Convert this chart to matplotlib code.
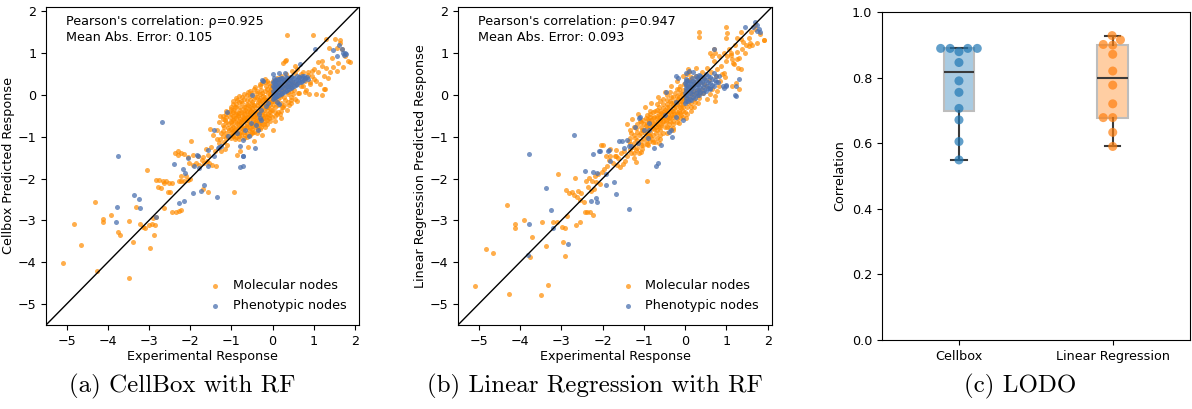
import numpy as np
import pandas as pd
import matplotlib
matplotlib.use("Agg")
import matplotlib.pyplot as plt
import seaborn as sns

# ---- panel (a): CellBox, molecular nodes (x = experimental, y = predicted)
a_mol_tail = np.array([
    (-5.08, -4.02), (-4.81, -3.09), (-4.65, -3.59), (-4.31, -2.57), (-4.26, -4.22), (-4.12, -2.97),
    (-4.11, -3.03), (-3.91, -2.87), (-3.76, -3.28), (-3.70, -3.35), (-3.48, -3.01), (-3.49, -4.38),
    (-3.38, -3.51), (-3.32, -2.67), (-3.23, -3.09), (-3.15, -3.15), (-3.09, -3.19), (-3.06, -1.79),
    (-2.98, -3.67), (-2.89, -3.36), (-2.99, -3.11), (-2.93, -3.09), (-2.85, -3.11), (-2.91, -2.95),
    (-2.83, -2.91), (-2.63, -2.71), (-2.43, -2.81), (-2.34, -2.79), (-2.26, -2.77), (-2.22, -2.75),
    (-2.79, -2.21), (-2.71, -2.23), (-2.63, -2.10), (-2.83, -2.03), (-2.75, -2.03), (-2.67, -2.06),
    (-2.59, -2.07), (-2.51, -2.10), (-2.43, -2.11), (-2.55, -2.31), (-2.49, -2.33), (-2.28, -2.07),
    (-2.22, -2.05), (-2.14, -2.07), (-2.06, -2.04), (-2.00, -2.00), (-1.56, -2.33), (-1.70, -2.25),
    (-0.94, -2.31), (-2.38, -1.40), (-2.30, -1.44), (-2.22, -1.39), (-2.14, -1.42), (-2.06, -1.48),
    (-1.94, -1.44), (-1.82, -1.46), (-1.70, -1.48), (-1.57, -1.44), (-2.02, -1.63), (-1.94, -1.67),
    (-1.86, -1.63), (-1.78, -1.67), (-1.66, -1.63), (-1.54, -1.63), (-1.46, -1.67), (-1.38, -1.71),
    (-2.22, -1.93), (-2.10, -1.95), (-1.98, -1.10), (-1.30, -1.15), (-1.18, -1.12), (-1.10, -1.20),
    (-1.62, -1.30), (-1.50, -1.25), (-1.40, -1.35), (-1.35, -1.05), (-1.45, -0.95), (-1.52, -0.82),
    (-1.28, -0.50), (-0.87, -1.43), (-0.80, -1.34), (-0.60, -1.25), (-0.45, -1.10), (-0.25, -0.95),
    (0.00, -0.84), (-2.29, -1.35), (-1.72, -1.55), (-1.60, -1.58), (-1.25, -1.35), (-1.15, -1.30),
])
a_mol_core = np.array([
    (-1.24, -0.92), (-1.18, -0.78), (-1.15, -0.60), (-1.12, -0.45), (-1.10, -0.98), (-1.07, -0.70),
    (-1.05, -0.85), (-1.03, -0.52), (-1.00, -0.62), (-0.98, -0.95), (-0.97, -0.40), (-0.95, -0.76),
    (-0.93, -0.55), (-0.91, -1.05), (-0.90, -0.88), (-0.88, -0.30), (-0.87, -0.68), (-0.85, -0.47),
    (-0.84, -0.80), (-0.82, -0.98), (-0.80, -0.58), (-0.79, -0.36), (-0.77, -0.72), (-0.76, -0.88),
    (-0.74, -0.50), (-0.73, -0.20), (-0.71, -0.63), (-0.70, -0.40), (-0.69, -0.80), (-0.67, -0.95),
    (-0.66, -0.28), (-0.64, -0.55), (-0.63, -0.70), (-0.61, -0.12), (-0.60, -0.45), (-0.58, -0.85),
    (-0.57, -0.33), (-0.56, -0.62), (-0.54, -0.02), (-0.53, -0.50), (-0.51, -0.75), (-0.50, -0.22),
    (-0.48, -0.40), (-0.47, -0.60), (-0.45, -0.10), (-0.44, -0.88), (-0.42, -0.30), (-0.41, -0.52),
    (-0.39, -0.68), (-0.38, 0.05), (-0.36, -0.18), (-0.35, -0.42), (-0.33, -0.60), (-0.31, -0.08),
    (-0.30, -0.30), (-0.28, -0.78), (-0.27, 0.12), (-0.25, -0.48), (-0.24, -0.20), (-0.22, -0.02),
    (-0.20, -0.36), (-0.19, -0.62), (-0.17, 0.20), (-0.16, -0.12), (-0.14, -0.28), (-0.12, 0.05),
    (-0.11, -0.45), (-0.09, 0.28), (-0.08, -0.18), (-0.06, -0.02), (-0.04, -0.35), (-0.03, 0.15),
    (0.00, -0.25), (0.02, 0.32), (0.04, -0.10), (0.06, -0.40), (0.08, 0.08), (0.10, 0.40),
    (0.12, -0.18), (0.15, 0.22), (0.17, -0.05), (0.20, 0.45), (0.22, -0.30), (0.25, 0.10),
    (0.28, 0.35), (0.30, -0.12), (0.33, 0.50), (0.36, 0.20), (0.38, 0.02), (0.42, 0.42),
    (0.45, -0.05), (0.48, 0.30), (0.52, 0.12), (0.55, 0.52), (0.58, 0.25), (0.62, 0.05),
    (0.65, 0.42), (0.70, 0.20), (0.74, 0.55), (0.78, 0.32), (0.82, 0.12), (0.86, 0.48),
    (0.90, 0.25), (0.95, 0.58), (1.00, 0.38), (-0.95, -0.22), (-1.02, -0.30), (-0.62, -1.00),
    (-0.50, -0.92), (-0.35, -0.82), (-0.20, -0.70), (-0.08, -0.55), (0.05, -0.62), (0.18, -0.45),
    (-1.30, -0.65), (-1.35, -0.85), (-1.28, -1.05), (-0.86, -0.12), (-0.75, -0.05), (-0.60, 0.08),
    (-0.46, 0.15), (-0.30, 0.25), (-0.18, 0.38), (-0.92, -0.65), (-0.89, -0.42), (-0.86, -0.92),
    (-0.83, -0.50), (-0.81, -0.70), (-0.78, -0.28), (-0.75, -0.60), (-0.72, -0.82), (-0.70, -0.52),
    (-0.68, -0.35), (-0.65, -0.75), (-0.62, -0.60), (-0.59, -0.25), (-0.57, -0.48), (-0.55, -0.70),
    (-0.52, -0.38), (-0.49, -0.82), (-0.46, -0.50), (-0.44, -0.25), (-0.40, -0.62), (-0.37, -0.45),
    (-0.34, -0.12), (-0.32, -0.70), (-0.29, -0.52), (-0.26, -0.32), (-0.23, -0.55), (-0.21, -0.10),
    (-0.18, -0.45), (-0.15, -0.22), (-0.13, -0.60), (-0.10, -0.30), (-0.07, 0.02), (-0.05, -0.48),
    (-0.02, -0.15), (-1.08, -0.80), (-1.05, -0.40), (-0.99, -0.72), (-0.96, -0.50), (-0.94, -0.85),
    (-0.91, -0.30),
])
a_mol_core2 = np.array([
    (-1.21, -0.98), (-1.21, -0.86), (-1.21, -0.72), (-1.21, -0.58), (-1.21, -0.50),
    (-1.13, -1.02), (-1.13, -0.90), (-1.13, -0.66), (-1.13, -0.53), (-1.13, -0.38),
    (-1.01, -1.04), (-1.01, -0.92), (-1.01, -0.81), (-1.01, -0.66), (-1.01, -0.45), (-1.01, -0.33),
    (-0.96, -0.98), (-0.96, -0.87), (-0.96, -0.60), (-0.96, -0.36), (-0.96, -0.15),
    (-0.89, -1.00), (-0.89, -0.76), (-0.89, -0.55), (-0.89, -0.45), (-0.89, -0.22), (-0.89, -0.08),
    (-0.81, -1.05), (-0.81, -0.90), (-0.81, -0.62), (-0.81, -0.43), (-0.81, -0.18), (-0.81, -0.02),
    (-0.76, -0.97), (-0.76, -0.79), (-0.76, -0.66), (-0.76, -0.42), (-0.76, -0.14),
    (-0.69, -1.02), (-0.69, -0.88), (-0.69, -0.58), (-0.69, -0.46), (-0.69, -0.30), (-0.69, -0.10),
    (-0.69, 0.02), (-0.61, -0.92), (-0.61, -0.78), (-0.61, -0.52), (-0.61, -0.38), (-0.61, -0.21),
    (-0.61, 0.00), (-0.55, -0.96), (-0.55, -0.80), (-0.55, -0.42), (-0.55, -0.28), (-0.55, -0.12),
    (-0.55, 0.10), (-0.49, -0.88), (-0.49, -0.70), (-0.49, -0.56), (-0.49, -0.31), (-0.49, -0.16),
    (-0.49, 0.04), (-0.43, -0.78), (-0.43, -0.64), (-0.43, -0.46), (-0.43, -0.38), (-0.43, -0.05),
    (-0.43, 0.18), (-0.37, -0.90), (-0.37, -0.74), (-0.37, -0.56), (-0.37, -0.24), (-0.37, -0.06),
    (-0.37, 0.10), (-0.31, -0.82), (-0.31, -0.64), (-0.31, -0.40), (-0.31, -0.20), (-0.31, 0.02),
    (-0.31, 0.20), (-0.25, -0.70), (-0.25, -0.58), (-0.25, -0.40), (-0.25, -0.12), (-0.25, 0.05),
    (-0.25, 0.28), (-0.19, -0.76), (-0.19, -0.50), (-0.19, -0.26), (-0.19, -0.05), (-0.19, 0.10),
    (-0.19, 0.30), (-0.13, -0.70), (-0.13, -0.52), (-0.13, -0.36), (-0.13, -0.12), (-0.13, 0.15),
    (-0.13, 0.32), (-0.07, -0.62), (-0.07, -0.40), (-0.07, -0.25), (-0.07, -0.08), (-0.07, 0.10),
    (-0.07, 0.22), (-0.01, -0.52), (-0.01, -0.36), (-0.01, -0.15), (-0.01, 0.06), (-0.01, 0.22),
    (0.07, -0.50), (0.07, -0.30), (0.07, -0.15), (0.07, 0.00), (0.07, 0.18),
    (0.14, -0.40), (0.14, -0.25), (0.14, -0.10), (0.14, 0.04), (0.14, 0.30),
    (0.21, -0.38), (0.21, -0.20), (0.21, 0.00), (0.21, 0.15), (0.29, -0.25), (0.29, -0.05),
    (0.29, 0.18), (0.29, 0.28), (0.37, -0.18), (0.37, 0.08), (0.37, 0.30), (0.46, -0.12),
    (0.46, 0.10), (0.46, 0.20),
])
a_mol_upper = np.array([
    (0.34, 1.42), (0.99, 1.44), (1.30, 1.33), (1.51, 1.34), (1.64, 1.30), (1.36, 1.13), (1.56, 1.13),
    (1.68, 1.09), (1.83, 0.81), (1.70, 0.66), (1.56, 0.57), (1.46, 0.67), (1.31, 0.65), (1.20, 0.81),
    (1.10, 0.78), (0.32, 0.83), (0.26, 0.77), (1.27, 0.14), (1.20, 0.00), (0.88, 0.01), (1.06, 0.02),
    (1.63, 1.23), (1.75, 0.92), (1.45, 0.88), (1.40, 0.55), (1.25, 0.45), (1.10, 0.55), (1.00, 0.62),
    (0.95, 0.45), (0.85, 0.55), (0.78, 0.40), (0.70, 0.50), (0.90, 0.30), (1.05, 0.32), (1.15, 0.25),
    (0.60, 0.62), (0.55, 0.70), (0.48, 0.58), (0.75, 0.20), (0.65, 0.05), (0.55, -0.10), (0.45, -0.20),
    (0.40, -0.25), (0.60, -0.15), (0.35, -0.35), (0.25, -0.30), (0.50, 0.02), (0.80, 0.08), (0.20, -0.55),
    (0.10, -0.45), (1.87, 0.79), (1.24, 0.15), (0.30, 0.80), (1.19, 0.68), (1.60, 0.75), (1.35, 0.40),
])

# ---- panel (a): phenotypic nodes
a_phe_sparse = np.array([
    (-2.69, -0.66), (-3.76, -1.47), (-3.77, -2.69), (-3.81, -3.03), (-3.36, -2.40), (-3.25, -2.49),
    (-3.22, -2.71), (-2.83, -2.92), (-2.40, -1.65), (-2.18, -1.78), (-2.12, -1.86), (-2.28, -2.59),
    (-2.14, -2.53), (-1.94, -2.35), (-1.73, -2.29), (-1.67, -2.15), (-1.35, -2.45), (-1.90, -1.70),
    (-1.78, -1.75), (-1.56, -1.70), (-1.80, -1.46), (-1.43, -1.46), (-1.30, -1.25), (-1.25, -1.22),
    (-0.78, -1.73), (-0.72, -1.71), (-0.72, -1.45), (-0.42, -1.27), (-2.05, -1.51), (-1.84, -1.43),
    (-1.56, -1.31), (-1.32, -1.27), (-1.41, -0.85), (-1.11, -0.40), (-1.08, -0.99), (-0.87, -0.90),
    (-0.67, -0.85), (-0.71, -1.07), (-0.57, -0.99), (-0.36, -0.85), (-0.52, -0.67), (-0.40, -0.73),
    (-0.27, -0.60), (-0.30, -0.55), (-0.32, -0.45), (-0.28, -0.35), (-0.16, -0.27), (-0.10, -0.20),
    (-0.51, 0.00), (-0.22, 0.32), (-0.26, 0.35), (0.02, 0.50), (0.30, 0.52), (0.16, 0.53),
    (0.67, 0.74), (0.85, 0.38), (1.03, 1.10), (1.70, 1.00), (1.76, 1.01), (1.68, 1.09),
    (1.62, 1.18), (1.46, 1.07), (1.56, 0.93), (1.73, 0.96), (1.78, 0.98), (0.16, -0.23),
    (0.10, -0.18), (-0.71, -1.47), (-0.79, -1.23),
])
a_phe_cluster = np.array([
    (0.00, -0.10), (0.01, 0.00), (0.00, 0.10), (0.01, 0.21), (0.00, 0.30), (0.05, -0.05),
    (0.06, 0.05), (0.05, 0.15), (0.06, 0.25), (0.05, 0.35), (0.12, -0.02), (0.13, 0.08),
    (0.11, 0.18), (0.12, 0.28), (0.13, 0.37), (0.20, 0.02), (0.21, 0.12), (0.19, 0.22),
    (0.20, 0.32), (0.21, 0.40), (0.28, 0.06), (0.29, 0.16), (0.27, 0.26), (0.28, 0.36),
    (0.36, 0.12), (0.37, 0.22), (0.35, 0.32), (0.36, 0.41), (0.44, 0.16), (0.45, 0.26),
    (0.43, 0.36), (0.44, 0.43), (0.52, 0.20), (0.53, 0.30), (0.51, 0.40), (0.60, 0.26),
    (0.61, 0.35), (0.59, 0.44), (0.68, 0.30), (0.69, 0.40), (0.76, 0.35), (0.77, 0.44),
    (0.84, 0.42), (0.03, -0.08), (0.03, 0.05), (0.03, 0.18), (0.03, 0.30), (0.03, 0.40),
    (0.09, -0.04), (0.09, 0.10), (0.09, 0.22), (0.09, 0.33), (0.16, 0.00), (0.16, 0.14),
    (0.16, 0.26), (0.16, 0.38), (0.24, 0.05), (0.24, 0.18), (0.24, 0.30), (0.24, 0.40),
    (0.32, 0.10), (0.32, 0.20), (0.32, 0.32), (0.32, 0.42), (0.40, 0.14), (0.40, 0.25),
    (0.40, 0.38), (0.48, 0.18), (0.48, 0.30), (0.48, 0.42), (0.56, 0.24), (0.56, 0.36),
    (0.64, 0.30), (0.64, 0.42), (0.72, 0.34), (0.72, 0.44), (0.80, 0.40),
])

# ---- panel (b): linear regression, molecular nodes
b_mol_tail = np.array([
    (-5.08, -4.58), (-4.83, -3.69), (-4.65, -3.77), (-4.31, -2.64), (-4.26, -4.77), (-4.12, -3.08),
    (-4.12, -3.17), (-3.91, -3.00), (-3.71, -3.39), (-3.76, -3.87), (-3.49, -4.79), (-3.31, -4.55),
    (-3.46, -3.04), (-3.38, -3.61), (-3.21, -3.05), (-3.11, -3.05), (-3.07, -1.88), (-2.96, -3.51),
    (-2.91, -3.84), (-2.86, -2.89), (-2.97, -3.15), (-2.92, -3.17), (-2.64, -3.12), (-2.54, -3.03),
    (-2.67, -1.98), (-2.81, -2.35), (-2.74, -2.31), (-2.68, -2.39), (-2.61, -2.43), (-2.54, -2.51),
    (-2.46, -2.55), (-2.43, -2.81), (-2.37, -2.81), (-2.30, -2.79), (-2.24, -2.87), (-2.88, -2.28),
    (-2.60, -2.30), (-2.52, -2.35), (-2.35, -2.20), (-2.28, -2.30), (-2.20, -2.25), (-2.40, -2.05),
    (-2.32, -1.98), (-2.25, -2.05), (-2.18, -1.95), (-2.10, -1.90), (-2.02, -1.85), (-1.96, -1.78),
    (-1.90, -1.70), (-2.15, -2.08), (-2.05, -2.12), (-1.98, -1.21), (-1.81, -1.30), (-1.70, -1.45),
    (-1.62, -1.50), (-1.55, -1.40), (-1.47, -1.35), (-1.40, -1.45), (-1.75, -1.62), (-1.66, -1.68),
    (-1.58, -1.72), (-1.50, -1.66), (-1.45, -1.58), (-1.85, -1.55), (-1.32, -1.38), (-1.25, -1.50),
    (-0.93, -2.07), (-1.20, -1.60), (-2.03, -1.20), (-1.91, -1.46), (-1.81, -1.45), (-1.68, -1.47),
    (-1.11, -1.39), (-1.68, -1.32), (-0.63, -1.15), (-0.30, -0.84),
])
b_mol_core = np.array([
    (-1.35, -1.10), (-1.30, -0.90), (-1.26, -1.25), (-1.22, -1.02), (-1.18, -0.80), (-1.15, -1.15),
    (-1.12, -0.95), (-1.10, -0.62), (-1.07, -1.20), (-1.05, -0.85), (-1.03, -1.02), (-1.00, -0.70),
    (-0.98, -0.92), (-0.96, -0.55), (-0.94, -1.10), (-0.92, -0.80), (-0.90, -0.98), (-0.88, -0.62),
    (-0.86, -0.45), (-0.84, -0.88), (-0.82, -0.72), (-0.80, -1.05), (-0.78, -0.55), (-0.76, -0.82),
    (-0.74, -0.38), (-0.72, -0.66), (-0.70, -0.92), (-0.68, -0.50), (-0.66, -0.75), (-0.64, -0.30),
    (-0.62, -0.60), (-0.60, -0.85), (-0.58, -0.44), (-0.56, -0.68), (-0.54, -0.22), (-0.52, -0.52),
    (-0.50, -0.78), (-0.48, -0.35), (-0.46, -0.60), (-0.44, -0.12), (-0.42, -0.45), (-0.40, -0.70),
    (-0.38, -0.28), (-0.36, -0.52), (-0.34, -0.05), (-0.32, -0.38), (-0.30, -0.62), (-0.28, -0.18),
    (-0.26, -0.45), (-0.24, 0.05), (-0.22, -0.30), (-0.20, -0.55), (-0.18, -0.10), (-0.16, -0.38),
    (-0.14, 0.15), (-0.12, -0.22), (-0.10, -0.48), (-0.08, 0.02), (-0.06, -0.30), (-0.04, 0.25),
    (-0.02, -0.12), (0.00, -0.40), (0.03, 0.10), (0.06, -0.20), (0.09, 0.35), (0.12, -0.05),
    (0.15, -0.30), (0.18, 0.22), (0.21, 0.02), (0.24, -0.18), (0.27, 0.45), (0.30, 0.12),
    (0.33, -0.08), (0.36, 0.30), (0.40, 0.55), (0.43, 0.05), (0.46, 0.40), (0.50, 0.22),
    (0.54, 0.65), (0.58, 0.35), (0.62, 0.55), (0.66, 0.15), (0.70, 0.80), (0.74, 0.45),
    (0.78, 0.62), (0.82, 0.92), (0.86, 0.70), (0.90, 0.50), (0.95, 1.00), (1.00, 0.82),
    (1.05, 1.10), (1.10, 0.95), (1.15, 0.75), (1.20, 1.20), (1.25, 1.02), (1.30, 0.88),
    (-0.95, -0.75), (-0.91, -0.58), (-0.87, -0.95), (-0.83, -0.60), (-0.79, -0.80), (-0.75, -0.52),
    (-0.71, -0.78), (-0.67, -0.62), (-0.63, -0.45), (-0.59, -0.72), (-0.55, -0.55), (-0.51, -0.40),
    (-0.47, -0.65), (-0.43, -0.30), (-0.39, -0.55), (-0.35, -0.20), (-0.31, -0.48), (-0.27, -0.32),
    (-0.23, -0.15), (-0.19, -0.42), (-0.15, -0.05), (-0.11, -0.32), (-0.07, -0.15), (-0.03, -0.05),
    (-1.20, -1.32), (-1.05, -1.30), (-0.90, -1.20), (-0.72, -1.12), (-0.60, -1.05), (-0.45, -0.90),
    (-0.30, -0.80), (-0.15, -0.68), (0.02, -0.55), (-1.40, -0.70), (-1.28, -0.58), (-1.15, -0.45),
    (-0.98, -0.28), (-0.82, -0.20), (-0.66, -0.05), (-0.50, 0.08), (-0.35, 0.20), (-0.20, 0.32),
    (-0.05, 0.45), (0.10, 0.55), (0.25, 0.65),
])
b_mol_core2 = np.array([
    (-1.33, -1.30), (-1.33, -1.18), (-1.33, -1.02), (-1.33, -0.85), (-1.24, -1.38), (-1.24, -1.14),
    (-1.24, -0.96), (-1.24, -0.78), (-1.16, -1.28), (-1.16, -1.08), (-1.16, -0.88), (-1.16, -0.70),
    (-1.08, -1.36), (-1.08, -1.10), (-1.08, -0.92), (-1.08, -0.78), (-1.08, -0.66), (-1.01, -1.20),
    (-1.01, -0.85), (-1.01, -0.60), (-0.93, -1.18), (-0.93, -1.00), (-0.93, -0.88), (-0.93, -0.68),
    (-0.93, -0.48), (-0.85, -1.10), (-0.85, -0.98), (-0.85, -0.74), (-0.85, -0.52), (-0.85, -0.38),
    (-0.77, -1.12), (-0.77, -0.95), (-0.77, -0.68), (-0.77, -0.42), (-0.69, -1.02), (-0.69, -0.84),
    (-0.69, -0.70), (-0.69, -0.56), (-0.69, -0.35), (-0.69, -0.22), (-0.61, -0.95), (-0.61, -0.76),
    (-0.61, -0.52), (-0.61, -0.38), (-0.61, -0.15), (-0.53, -0.90), (-0.53, -0.62), (-0.53, -0.45),
    (-0.53, -0.32), (-0.53, -0.10), (-0.45, -0.78), (-0.45, -0.52), (-0.45, -0.38), (-0.45, -0.22),
    (-0.45, 0.00), (-0.37, -0.80), (-0.37, -0.62), (-0.37, -0.40), (-0.37, -0.15), (-0.37, 0.08),
    (-0.29, -0.70), (-0.29, -0.54), (-0.29, -0.38), (-0.29, -0.25), (-0.29, -0.05), (-0.21, -0.64),
    (-0.21, -0.45), (-0.21, -0.22), (-0.21, -0.02), (-0.21, 0.15), (-0.13, -0.56), (-0.13, -0.44),
    (-0.13, -0.30), (-0.13, -0.14), (-0.13, 0.05), (-0.13, 0.22), (-0.05, -0.52), (-0.05, -0.38),
    (-0.05, -0.22), (-0.05, -0.08), (-0.05, 0.12), (0.04, -0.46), (0.04, -0.30), (0.04, -0.08),
    (0.04, 0.22), (0.04, 0.35), (0.13, -0.38), (0.13, -0.20), (0.13, 0.05), (0.13, 0.16),
    (0.13, 0.42), (0.22, -0.28), (0.22, -0.10), (0.22, 0.10), (0.22, 0.30), (0.31, -0.20),
    (0.31, 0.00), (0.31, 0.25), (0.31, 0.40),
])
b_mol_upper = np.array([
    (0.33, 1.50), (0.34, 1.39), (1.00, 1.63), (1.02, 1.49), (1.00, 1.36), (1.68, 1.68), (1.70, 1.57),
    (1.90, 1.32), (1.74, 1.25), (1.62, 1.18), (1.57, 1.23), (1.26, 1.37), (1.34, 1.33), (1.40, 1.26),
    (1.48, 1.18), (1.54, 1.17), (1.38, 1.09), (1.46, 1.01), (1.10, 1.01), (1.02, 0.93), (1.14, 0.85),
    (1.26, 0.85), (1.18, 0.73), (1.34, 0.61), (1.27, 0.65), (0.69, 1.09), (0.61, 1.01), (0.73, 1.01),
    (0.65, 0.93), (0.93, 0.53), (0.97, 0.43), (1.22, 0.29), (1.14, 0.22), (0.85, 0.33), (0.81, 0.21),
    (0.73, -0.03), (0.77, 0.09), (0.61, 0.01), (0.73, -0.15), (0.45, 0.25), (0.41, 0.14), (0.37, 0.05),
    (0.53, -0.11), (0.06, 0.61), (0.04, 0.49), (1.35, 1.50), (1.60, 1.50), (1.55, 1.35), (1.80, 1.45),
    (1.30, 0.14), (1.91, 1.31),
])

# ---- panel (b): phenotypic nodes
b_phe_sparse = np.array([
    (-2.70, -0.97), (-3.77, -1.41), (-3.37, -2.23), (-3.25, -2.76), (-3.77, -3.09), (-3.21, -3.19),
    (-2.84, -3.56), (-3.81, -3.83), (-2.42, -1.81), (-2.24, -1.85), (-2.13, -1.87), (-2.22, -1.41),
    (-2.05, -1.35), (-1.87, -1.33), (-2.27, -2.53), (-2.17, -2.47), (-2.13, -2.57), (-1.92, -2.15),
    (-1.67, -2.37), (-1.35, -2.72), (-1.72, -2.09), (-1.81, -1.59), (-1.91, -1.90), (-1.54, -1.11),
    (-1.42, -1.07), (-1.30, -1.22), (-0.71, -1.71), (-0.65, -1.62), (-1.10, -0.54), (-0.75, -1.26),
    (-0.89, -1.02), (0.02, 0.52), (0.10, 0.56), (0.18, 0.54), (-0.22, 0.44), (-0.18, 0.40),
    (-0.46, 0.08), (-0.22, -0.18), (-0.50, -0.48), (-0.22, -0.52), (-0.06, -0.60), (-0.34, -0.84),
    (-0.32, -1.00), (-0.38, -0.88), (-0.59, -1.19), (-0.87, -0.68), (-0.87, -0.84), (-0.99, -0.84),
    (-1.11, -0.56), (-1.21, -0.76), (-1.15, -1.15), (-1.36, -1.23), (-1.48, -1.27), (-1.60, -1.11),
    (-1.84, -1.32), (-2.09, -1.35), (0.92, 0.20), (1.00, 0.24), (1.20, 0.00), (1.68, 1.73),
    (1.75, 1.66), (1.79, 1.57), (1.63, 1.61), (1.82, 1.50), (1.74, 1.53), (1.44, 1.61),
    (0.69, 1.09), (1.30, 0.37), (1.22, 0.21), (0.98, 0.21), (0.93, 0.17), (1.22, -0.02),
    (0.61, 0.13),
])
b_phe_cluster = np.array([
    (0.00, -0.20), (0.01, -0.08), (0.00, 0.04), (0.01, 0.16), (0.00, 0.28), (0.01, 0.38),
    (0.07, -0.15), (0.08, -0.02), (0.07, 0.10), (0.06, 0.22), (0.07, 0.34), (0.15, -0.12),
    (0.16, 0.02), (0.14, 0.14), (0.15, 0.26), (0.16, 0.40), (0.24, -0.08), (0.25, 0.05),
    (0.23, 0.18), (0.24, 0.30), (0.25, 0.44), (0.33, 0.00), (0.34, 0.12), (0.32, 0.24),
    (0.33, 0.36), (0.34, 0.48), (0.42, 0.05), (0.43, 0.18), (0.41, 0.30), (0.42, 0.42),
    (0.51, 0.10), (0.52, 0.22), (0.50, 0.35), (0.51, 0.50), (0.60, 0.16), (0.61, 0.28),
    (0.59, 0.42), (0.70, 0.22), (0.71, 0.36), (0.69, 0.52), (0.80, 0.30), (0.81, 0.45),
    (0.03, -0.14), (0.03, 0.00), (0.03, 0.12), (0.03, 0.24), (0.03, 0.34), (0.11, -0.10),
    (0.11, 0.04), (0.11, 0.18), (0.11, 0.30), (0.19, -0.04), (0.19, 0.10), (0.19, 0.22),
    (0.19, 0.34), (0.28, 0.00), (0.28, 0.12), (0.28, 0.26), (0.28, 0.40), (0.37, 0.06),
    (0.37, 0.18), (0.37, 0.30), (0.37, 0.44), (0.46, 0.12), (0.46, 0.26), (0.46, 0.38),
    (0.55, 0.16), (0.55, 0.30), (0.55, 0.44), (0.65, 0.24), (0.65, 0.38), (0.75, 0.30),
    (0.75, 0.44),
])

# ---- panel (c): LODO correlations
lodo_models = ["Cellbox", "Linear Regression"]
lodo_cellbox = [0.889, 0.889, 0.889, 0.889, 0.879, 0.846, 0.790, 0.755, 0.706, 0.671, 0.605, 0.549]
lodo_linreg = [0.928, 0.915, 0.901, 0.899, 0.871, 0.820, 0.777, 0.720, 0.678, 0.678, 0.633, 0.590]

scatter_stats = [(0.925, 0.105), (0.947, 0.093)]
scatter_ylabels = ["Cellbox Predicted Response", "Linear Regression Predicted Response"]
captions = ["(a) CellBox with RF", "(b) Linear Regression with RF", "(c) LODO"]

FS = 9.2
fig = plt.figure(figsize=(11.92, 4.09), dpi=100)
ax_a = fig.add_axes([0.0386, 0.2054, 0.2626, 0.7775])
ax_b = fig.add_axes([0.3842, 0.2054, 0.2634, 0.7775])
ax_c = fig.add_axes([0.7400, 0.1687, 0.2580, 0.8020])

panels = [
    (ax_a, np.vstack([a_mol_tail, a_mol_core, a_mol_core2, a_mol_upper]),
     np.vstack([a_phe_sparse, a_phe_cluster])),
    (ax_b, np.vstack([b_mol_tail, b_mol_core, b_mol_core2, b_mol_upper]),
     np.vstack([b_phe_sparse, b_phe_cluster])),
]
for i, (ax, mol, phe) in enumerate(panels):
    ax.scatter(mol[:, 0], mol[:, 1], s=13, color="darkorange", alpha=0.7, linewidths=0,
               label="Molecular nodes")
    ax.scatter(phe[:, 0], phe[:, 1], s=13, color="#4c72b0", alpha=0.75, linewidths=0,
               label="Phenotypic nodes")
    ax.axline((0, 0), slope=1, color="black", lw=1)
    ax.set_xlim(-5.5, 2.1)
    ax.set_ylim(-5.5, 2.1)
    ax.set_xticks(range(-5, 3))
    ax.set_yticks(range(-5, 3))
    ax.tick_params(labelsize=FS)
    ax.set_xlabel("Experimental Response", fontsize=FS, labelpad=2)
    ax.set_ylabel(scatter_ylabels[i], fontsize=FS, labelpad=2)
    rho, mae = scatter_stats[i]
    ax.text(0.065, 0.975, f"Pearson's correlation: \u03c1={rho:.3f}\nMean Abs. Error: {mae:.3f}",
            transform=ax.transAxes, ha="left", va="top", fontsize=FS, linespacing=1.3)
    ax.legend(loc="lower right", frameon=False, fontsize=FS, handletextpad=0.4,
              borderaxespad=0.6, labelspacing=0.55)

# LODO box + swarm
bp = ax_c.boxplot([lodo_cellbox, lodo_linreg], positions=[0, 1], widths=0.2, patch_artist=True,
                  showfliers=False, whis=(0, 100),
                  medianprops=dict(color="#3a3a3a", lw=1.5),
                  whiskerprops=dict(color="#3a3a3a", lw=1.5),
                  capprops=dict(color="#3a3a3a", lw=1.5))
for patch, col in zip(bp["boxes"], ["tab:blue", "tab:orange"]):
    patch.set_facecolor(matplotlib.colors.to_rgba(col, 0.38))
    patch.set_edgecolor("#bdbdbd")
    patch.set_linewidth(1.5)

lodo_df = pd.DataFrame({
    "model": [lodo_models[0]] * len(lodo_cellbox) + [lodo_models[1]] * len(lodo_linreg),
    "corr": lodo_cellbox + lodo_linreg,
})
sns.swarmplot(data=lodo_df, x="model", y="corr", hue="model", order=lodo_models,
              palette=["tab:blue", "tab:orange"], size=6.5, alpha=0.7, ax=ax_c, legend=False,
              zorder=3)
ax_c.set_xlim(-0.5, 1.5)
ax_c.set_ylim(0, 1.0)
ax_c.set_yticks(np.arange(0, 1.01, 0.2))
ax_c.set_xticks([0, 1])
ax_c.set_xticklabels(lodo_models)
ax_c.tick_params(labelsize=FS)
ax_c.set_xlabel("")
ax_c.set_ylabel("Correlation", fontsize=FS)

for xc, cap in zip([0.153, 0.499, 0.856], captions):
    fig.text(xc, 0.056, cap, ha="center", va="center", fontsize=18, family="cmr10")

fig.savefig("out.png", dpi=100)
